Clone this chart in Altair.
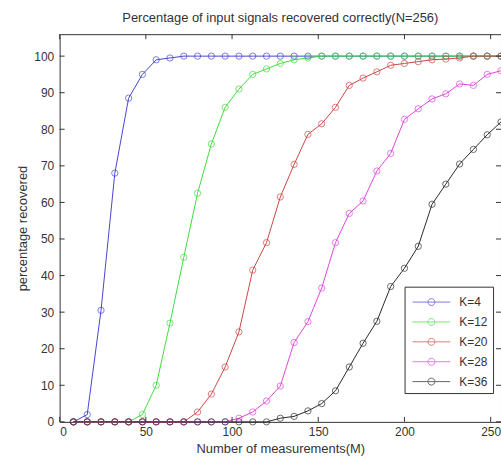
import altair as alt
import pandas as pd

M = [8, 16, 24, 32, 40, 48, 56, 64, 72, 80, 88, 96, 104, 112, 120, 128,
     136, 144, 152, 160, 168, 176, 184, 192, 200, 208, 216, 224, 232, 240, 248, 256]

k4 = [0, 2, 30.5, 68, 88.5, 95, 99, 99.5, 100, 100, 100, 100, 100, 100, 100, 100,
      100, 100, 100, 100, 100, 100, 100, 100, 100, 100, 100, 100, 100, 100, 100, 100]
k12 = [0, 0, 0, 0, 0, 2, 10, 27, 45, 62.5, 76, 86, 91, 95, 96.5, 98,
       99, 99.5, 100, 100, 100, 100, 100, 100, 100, 100, 100, 100, 100, 100, 100, 100]
k20 = [0, 0, 0, 0, 0, 0, 0, 0, 0, 2.7, 7.6, 15, 24.6, 41.5, 49, 61.5,
       70.4, 78.6, 81.5, 86, 92, 94, 95.7, 97.5, 98, 98.5, 99, 99.2, 99.5, 100, 100, 100]
k28 = [0, 0, 0, 0, 0, 0, 0, 0, 0, 0, 0, 0, 1, 2.7, 5.7, 9.8,
       21.7, 27.4, 36.6, 49, 57, 60.4, 68.6, 73.4, 82.7, 85.6, 88.3, 89.7, 92.4, 92, 95, 96]
k36 = [0, 0, 0, 0, 0, 0, 0, 0, 0, 0, 0, 0, 0, 0, 0, 1,
       1.5, 3, 5, 8.5, 15, 21.5, 27.5, 37, 42, 48, 59.5, 65, 70.5, 74.5, 78.5, 82]

series_names = ["K=4", "K=12", "K=20", "K=28", "K=36"]
series_vals = [k4, k12, k20, k28, k36]
series_colors = ["#4646cc", "#40dc40", "#cc4646", "#dc46dc", "#2a2a2a"]

x_ticks = [0, 50, 100, 150, 200, 250]
y_ticks = [0, 10, 20, 30, 40, 50, 60, 70, 80, 90, 100]

rows = []
for name, vals in zip(series_names, series_vals):
    for m, v in zip(M, vals):
        rows.append({"M": m, "pct": v, "K": name})
df = pd.DataFrame(rows)

W, H = 444, 390
FONT = "Liberation Sans"
TXT = "#333333"
xscale = alt.Scale(domain=[0, 256], nice=False, zero=False)
yscale = alt.Scale(domain=[0, 106], nice=False, zero=False)

legend_path = ("M-0.75,0L3.05,0M1.5,0A0.35,0.35,0,1,1,0.8,0"
               "A0.35,0.35,0,1,1,1.5,0")

color = alt.Color(
    "K:N",
    scale=alt.Scale(domain=series_names, range=series_colors),
    legend=alt.Legend(
        title=None, orient="none", legendX=347, legendY=254,
        strokeColor=TXT, fillColor="white", padding=5,
        rowPadding=3, symbolSize=400, symbolType=legend_path,
        symbolStrokeWidth=1, symbolFillColor="transparent",
        labelOffset=29, labelFont=FONT, labelFontSize=12,
        labelColor=TXT,
    ),
)

axis_style = dict(ticks=False, domain=False, grid=False,
                  labelFont=FONT, labelFontSize=12, labelColor=TXT,
                  titleFont=FONT, titleFontSize=13, titleFontWeight="normal",
                  titleColor=TXT)
x_axis = alt.Axis(values=x_ticks, title="Number of measurements(M)",
                  labelPadding=5, titlePadding=5, **axis_style)
y_axis = alt.Axis(values=y_ticks, title="percentage recovered",
                  labelPadding=6, titlePadding=4, **axis_style)

lines = alt.Chart(df).mark_line(strokeWidth=1).encode(
    x=alt.X("M:Q", scale=xscale, axis=x_axis),
    y=alt.Y("pct:Q", scale=yscale, axis=y_axis),
    color=color, order=alt.Order("M:Q"))
points = alt.Chart(df).mark_point(filled=False, size=40, strokeWidth=1).encode(
    x=alt.X("M:Q", scale=xscale, axis=x_axis),
    y=alt.Y("pct:Q", scale=yscale, axis=y_axis),
    color=color)

xt = pd.DataFrame({"M": x_ticks})
yt = pd.DataFrame({"pct": y_ticks})
xb = alt.Chart(xt).mark_rule(color=TXT).encode(
    x=alt.X("M:Q", scale=xscale, axis=x_axis), y=alt.value(H), y2=alt.value(H - 5))
xtop = alt.Chart(xt).mark_rule(color=TXT).encode(
    x=alt.X("M:Q", scale=xscale, axis=x_axis), y=alt.value(0), y2=alt.value(5))
yl = alt.Chart(yt).mark_rule(color=TXT).encode(
    y=alt.Y("pct:Q", scale=yscale, axis=y_axis), x=alt.value(0), x2=alt.value(5))
yr = alt.Chart(yt).mark_rule(color=TXT).encode(
    y=alt.Y("pct:Q", scale=yscale, axis=y_axis), x=alt.value(W - 5), x2=alt.value(W))

chart = alt.layer(lines, points, xb, xtop, yl, yr).properties(
    width=W, height=H,
    background="white",
    title=alt.TitleParams("Percentage of input signals recovered correctly(N=256)",
                          font=FONT, fontSize=13, fontWeight="normal",
                          color=TXT, offset=9, anchor="middle"),
    autosize=alt.AutoSizeParams(type="none"),
    padding={"left": 60, "top": 33, "right": 0, "bottom": 42},
).configure_view(stroke=TXT, strokeWidth=1)

chart.save("out.html", embed_options={"renderer": "svg", "actions": False})
